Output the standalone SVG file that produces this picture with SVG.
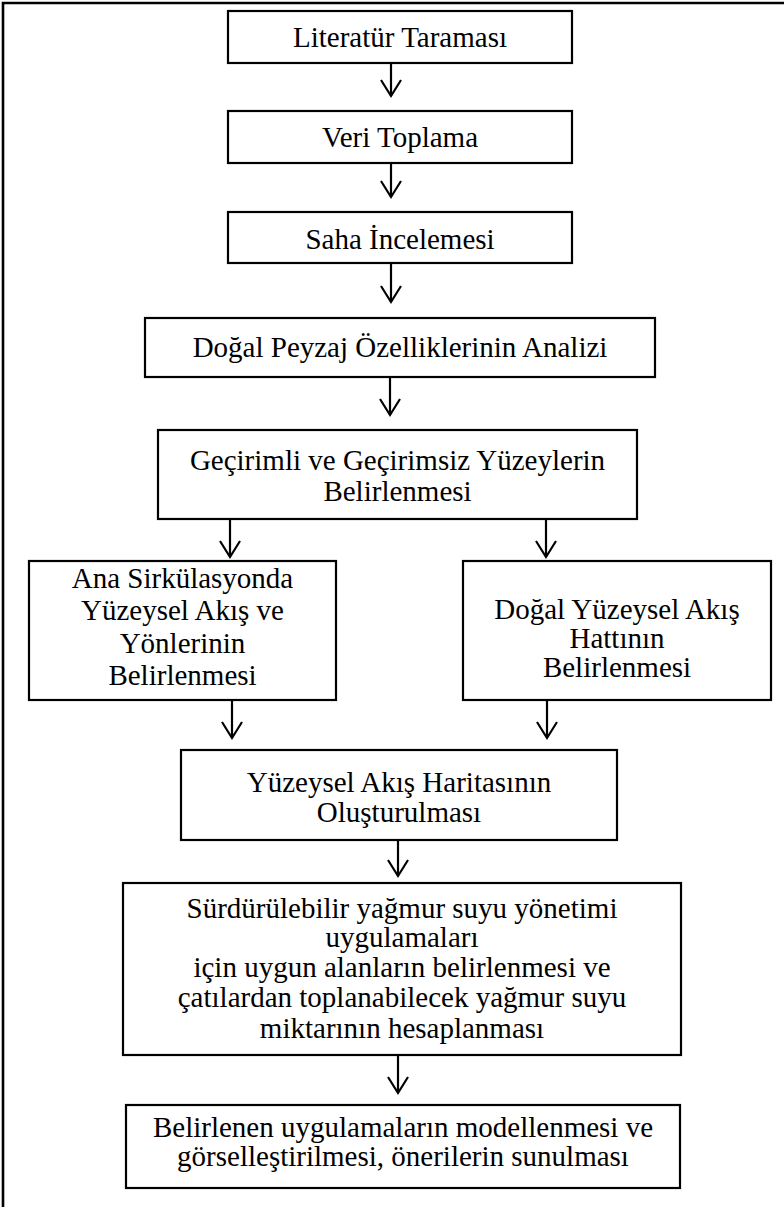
<svg xmlns="http://www.w3.org/2000/svg" width="784" height="1207" viewBox="0 0 784 1207">
<style>
.box{fill:#fff;stroke:#000;stroke-width:2.2}
.t{font-family:"Liberation Serif","Times New Roman",serif;font-size:29px;fill:#000;text-anchor:middle}
.c{stroke:#000;stroke-width:2.2;fill:none}
.frame{stroke:#000;stroke-width:2.6;fill:none}
</style>
<defs>
<marker id="arr" markerUnits="userSpaceOnUse" markerWidth="40" markerHeight="40" viewBox="-20 -20 40 40" refX="0" refY="0" orient="auto" overflow="visible">
<path d="M-16,-10 L0,0 L-16,10" fill="none" stroke="#000" stroke-width="2.2"/>
</marker>
</defs>
<path class="frame" d="M3,1207 V3 H784"/>
<g id="connectors">
<line class="c" x1="391" y1="63" x2="391" y2="96" marker-end="url(#arr)"/>
<line class="c" x1="391" y1="163" x2="391" y2="197" marker-end="url(#arr)"/>
<line class="c" x1="391" y1="263" x2="391" y2="302" marker-end="url(#arr)"/>
<line class="c" x1="390" y1="377" x2="390" y2="415" marker-end="url(#arr)"/>
<line class="c" x1="230" y1="519" x2="230" y2="557" marker-end="url(#arr)"/>
<line class="c" x1="546" y1="519" x2="546" y2="557" marker-end="url(#arr)"/>
<line class="c" x1="232" y1="700" x2="232" y2="738" marker-end="url(#arr)"/>
<line class="c" x1="547" y1="700" x2="547" y2="738" marker-end="url(#arr)"/>
<line class="c" x1="398" y1="840" x2="398" y2="876" marker-end="url(#arr)"/>
<line class="c" x1="398" y1="1055" x2="398" y2="1093" marker-end="url(#arr)"/>
</g>
<g id="n1"><rect class="box" x="228" y="11" width="344" height="52"/><text class="t" x="400" y="47">Literatür Taraması</text></g>
<g id="n2"><rect class="box" x="228" y="111" width="344" height="52"/><text class="t" x="400" y="147">Veri Toplama</text></g>
<g id="n3"><rect class="box" x="228" y="212" width="344" height="51"/><text class="t" x="400" y="249">Saha İncelemesi</text></g>
<g id="n4"><rect class="box" x="145" y="318" width="510" height="59"/><text class="t" x="400" y="357">Doğal Peyzaj Özelliklerinin Analizi</text></g>
<g id="n5"><rect class="box" x="158" y="430" width="479" height="89"/><text class="t" x="397.5" y="470">Geçirimli ve Geçirimsiz Yüzeylerin</text><text class="t" x="397.5" y="501">Belirlenmesi</text></g>
<g id="n6"><rect class="box" x="29" y="561" width="307" height="139"/><text class="t" x="182.5" y="588">Ana Sirkülasyonda</text><text class="t" x="182.5" y="620">Yüzeysel Akış ve</text><text class="t" x="182.5" y="653">Yönlerinin</text><text class="t" x="182.5" y="685">Belirlenmesi</text></g>
<g id="n7"><rect class="box" x="463" y="561" width="308" height="139"/><text class="t" x="617" y="619">Doğal Yüzeysel Akış</text><text class="t" x="617" y="648">Hattının</text><text class="t" x="617" y="677">Belirlenmesi</text></g>
<g id="n8"><rect class="box" x="181" y="750" width="436" height="90"/><text class="t" x="399" y="792">Yüzeysel Akış Haritasının</text><text class="t" x="399" y="822">Oluşturulması</text></g>
<g id="n9"><rect class="box" x="123" y="883" width="558" height="172"/><text class="t" x="402" y="918">Sürdürülebilir yağmur suyu yönetimi</text><text class="t" x="402" y="947">uygulamaları</text><text class="t" x="402" y="977">için uygun alanların belirlenmesi ve</text><text class="t" x="402" y="1007">çatılardan toplanabilecek yağmur suyu</text><text class="t" x="402" y="1038">miktarının hesaplanması</text></g>
<g id="n10"><rect class="box" x="126" y="1105" width="554" height="83"/><text class="t" x="403" y="1137">Belirlenen uygulamaların modellenmesi ve</text><text class="t" x="403" y="1166">görselleştirilmesi, önerilerin sunulması</text></g>
</svg>
